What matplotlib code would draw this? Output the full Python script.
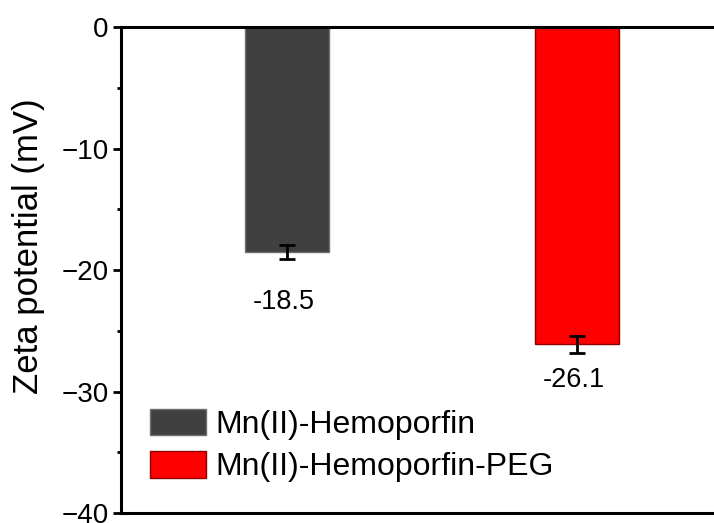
import matplotlib
matplotlib.use("Agg")
import matplotlib.pyplot as plt
from matplotlib.ticker import MultipleLocator

plt.rcParams['font.family'] = ['Liberation Sans', 'DejaVu Sans']
plt.rcParams['axes.unicode_minus'] = True

categories = ["Mn(II)-Hemoporfin", "Mn(II)-Hemoporfin-PEG"]
values = [-18.5, -26.1]
errors = [0.6, 0.7]
value_labels = ["-18.5", "-26.1"]
colors = ["#404040", "#ff0000"]
edge_colors = ["#707070", "#8a0000"]

fig = plt.figure(figsize=(7.14, 5.23), dpi=100)
ax = fig.add_axes([0.1695, 0.019, 0.871, 0.929])

x = [1, 2]
bars = ax.bar(x, values, width=0.29, color=colors, edgecolor=edge_colors,
              linewidth=1.0, zorder=2)
ax.errorbar(x, values, yerr=errors, fmt='none', ecolor='black',
            elinewidth=2, capsize=6, capthick=2, zorder=3)

# value labels below bars (offsets in points)
offsets = [-31, -19.5]
for xi, v, e, lab, off in zip(x, values, errors, value_labels, offsets):
    ax.annotate(lab, xy=(xi, v - e), xytext=(-2, off), textcoords='offset points',
                ha='center', va='center', fontsize=19.5, color='black')

for b, c in zip(bars, categories):
    b.set_label(c)

ax.set_xlim(1 - 0.572, 2 + 0.572)
ax.set_ylim(-40, 0)
ax.yaxis.set_major_locator(MultipleLocator(10))
ax.yaxis.set_minor_locator(MultipleLocator(5))
ax.set_xticks([])
ax.tick_params(axis='y', which='major', direction='out', length=6, width=2,
               labelsize=20, pad=3)
ax.tick_params(axis='y', which='minor', direction='out', length=3, width=2)
for s in ['left', 'top', 'bottom', 'right']:
    ax.spines[s].set_linewidth(2.2)
ax.set_ylabel("Zeta potential (mV)", fontsize=25)
ax.yaxis.set_label_coords(-0.122, 0.55)

leg = ax.legend(loc='lower left', bbox_to_anchor=(0.026, 0.037), frameon=False,
                fontsize=23, handlelength=1.75, handleheight=0.9,
                handletextpad=0.3, labelspacing=0.35, borderaxespad=0)

fig.savefig("out.png", dpi=100)
